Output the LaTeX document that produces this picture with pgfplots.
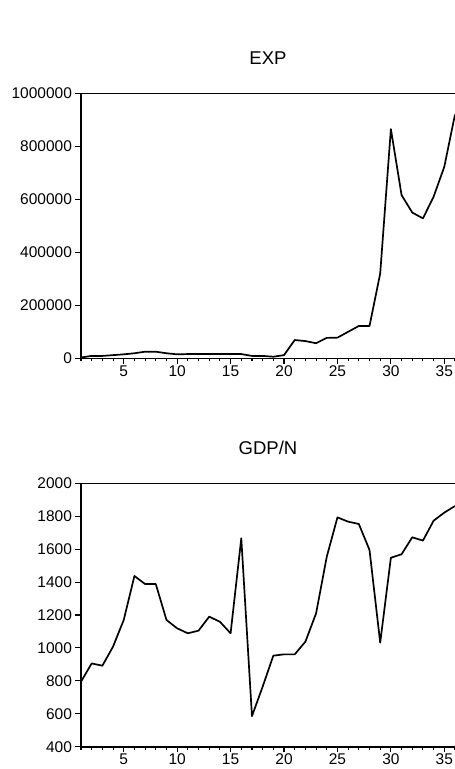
\documentclass[border=0pt]{standalone}
\usepackage{fontspec}
\setmainfont{Liberation Sans}
\usepackage{pgfplots}
\pgfplotsset{compat=1.18}

\pgfplotsset{eviews/.style={
    scale only axis, width=374pt, xmin=1, xmax=36,
    axis x line=box, axis y line=left,
    axis line style={-, line width=1.6pt},
    xtick={5,10,15,20,25,30,35}, minor xtick={1,...,36},
    tick align=outside, xtick pos=left, ytick pos=left,
    major tick length=5.5pt, minor tick length=3pt,
    tick style={black, line width=1.1pt},
    tick label style={font=\fontsize{15.5}{15.5}\selectfont},
    xticklabel style={yshift=2pt},
    /pgf/number format/assume math mode=true,
    /pgf/number format/fixed,
    /pgf/number format/precision=0,
    /pgf/number format/1000 sep={},
    scaled y ticks=false, clip=false,
    title style={font=\fontsize{18.5}{18.5}\selectfont,
      at={(0.5,1)}, anchor=base, yshift=23pt},
  }}

\begin{document}
\begin{tikzpicture}
  \useasboundingbox (0,0) rectangle (455pt,-769pt);

  % EXP
  \begin{axis}[eviews, height=265pt, at={(81pt,-358.3pt)},
      ymin=0, ymax=1000000,
      ytick={0,200000,400000,600000,800000,1000000},
      title={EXP}]
    \addplot[black, line width=1.7pt, line join=round] coordinates {
      (1,3000) (2,9000) (3,9000) (4,12000) (5,15000) (6,19000) (7,25000)
      (8,25000) (9,19000) (10,15000) (11,16000) (12,16000) (13,16000)
      (14,16000) (15,16000) (16,16000) (17,9000) (18,9000) (19,6000)
      (20,12000) (21,69000) (22,65000) (23,57000) (24,77000) (25,78000)
      (26,100000) (27,122000) (28,122000) (29,320000) (30,865000)
      (31,616000) (32,550000) (33,528000) (34,610000) (35,723000)
      (36,920000)};
  \end{axis}

  % GDP/N
  \begin{axis}[eviews, height=263.4pt, at={(81pt,-746.7pt)},
      ymin=400, ymax=2000,
      ytick={400,600,800,1000,1200,1400,1600,1800,2000},
      title={GDP/N}]
    \addplot[black, line width=1.7pt, line join=round] coordinates {
      (1,795) (2,906) (3,892) (4,1008) (5,1170) (6,1437) (7,1388)
      (8,1388) (9,1170) (10,1119) (11,1089) (12,1105) (13,1190)
      (14,1159) (15,1089) (16,1666) (17,586) (18,765) (19,953)
      (20,961) (21,961) (22,1038) (23,1210) (24,1554) (25,1793)
      (26,1767) (27,1753) (28,1595) (29,1032) (30,1548) (31,1569)
      (32,1672) (33,1652) (34,1773) (35,1822) (36,1862)};
  \end{axis}
\end{tikzpicture}
\end{document}
